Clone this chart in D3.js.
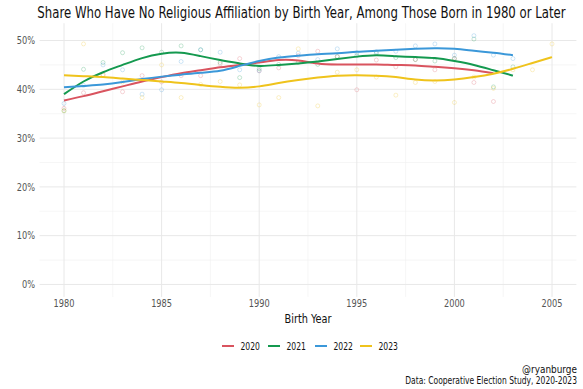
<!DOCTYPE html>
<html><head><meta charset="utf-8">
<script src="https://cdn.jsdelivr.net/npm/d3@7"></script>
<style>
body{margin:0;background:#fff}
text{font-family:"Liberation Sans Narrow","DejaVu Sans Condensed","Roboto",sans-serif}
</style>
</head><body>
<svg id="c" width="583" height="389"></svg>
<script>
// ---- data ----
const seriesNames = ["2020", "2021", "2022", "2023"];
const seriesColors = ["#d9545f", "#14994f", "#3b98d9", "#efc31c"];

const years2020 = [1980,1981,1982,1983,1984,1985,1986,1987,1988,1989,1990,1991,1992,1993,1994,1995,1996,1997,1998,1999,2000,2001,2002];
const years2021 = [1980,1981,1982,1983,1984,1985,1986,1987,1988,1989,1990,1991,1992,1993,1994,1995,1996,1997,1998,1999,2000,2001,2002,2003];
const years2022 = [1980,1981,1982,1983,1984,1985,1986,1987,1988,1989,1990,1991,1992,1993,1994,1995,1996,1997,1998,1999,2000,2001,2002,2003];
const years2023 = [1980,1981,1982,1983,1984,1985,1986,1987,1988,1989,1990,1991,1992,1993,1994,1995,1996,1997,1998,1999,2000,2001,2002,2003,2004,2005];

// observed shares (points, %)
const points2020 = [36.1,39.3,43.0,39.5,42.8,41.5,42.8,42.8,45.2,46.3,43.8,44.4,46.9,47.8,46.7,39.9,46.0,44.6,46.1,44.0,46.3,41.4,37.5];
const points2021 = [35.6,44.1,45.5,47.5,48.5,47.6,48.9,48.1,45.5,42.4,44.2,45.1,45.5,45.1,46.7,46.9,47.4,46.5,46.1,45.8,46.3,50.3,40.5,44.6];
const points2022 = [37.1,40.8,45.0,44.0,39.0,39.9,45.7,48.1,47.6,44.0,43.8,46.7,47.4,46.1,48.3,47.5,47.7,47.8,48.9,49.3,47.0,51.0,47.0,46.3];
const points2023 = [35.6,49.3,42.9,41.5,38.3,45.0,38.3,41.0,41.6,40.9,36.8,38.3,48.3,36.6,43.5,44.0,42.5,38.8,41.4,41.6,37.3,42.5,40.2,44.0,44.0,49.3];

// smoothed trend (%)
const trend2020 = [37.7,38.6,39.6,40.6,41.6,42.5,43.3,43.9,44.5,45.0,45.5,46.0,45.9,45.3,45.1,45.1,45.1,45.0,44.9,44.6,44.3,43.9,43.3];
const trend2021 = [39.0,41.6,43.5,45.0,46.4,47.3,47.5,46.8,46.0,45.3,44.8,45.0,45.3,45.7,46.2,46.7,47.0,46.8,46.6,46.4,45.8,45.0,43.9,42.8];
const trend2022 = [40.4,40.7,41.0,41.5,42.1,42.6,43.0,43.4,43.8,44.8,45.8,46.5,46.9,47.2,47.4,47.7,47.9,48.1,48.3,48.4,48.3,47.9,47.5,47.0];
const trend2023 = [42.9,42.7,42.5,42.2,41.9,41.6,41.3,40.9,40.5,40.3,40.6,41.3,41.9,42.4,42.8,42.9,42.8,42.5,42.0,41.8,42.0,42.5,43.2,44.2,45.4,46.6];

const xTicks = [1980,1985,1990,1995,2000,2005];
const xMinor = [1982.5,1987.5,1992.5,1997.5,2002.5];
const yTicks = [0,10,20,30,40,50];
const yMinor = [5,15,25,35,45];

const titleText = "Share Who Have No Religious Affiliation by Birth Year, Among Those Born in 1980 or Later";
const xTitle = "Birth Year";
const captionLines = ["@ryanburge", "Data: Cooperative Election Study, 2020-2023"];

const series = [
  {name: seriesNames[0], color: seriesColors[0], years: years2020, pts: points2020, trend: trend2020},
  {name: seriesNames[1], color: seriesColors[1], years: years2021, pts: points2021, trend: trend2021},
  {name: seriesNames[2], color: seriesColors[2], years: years2022, pts: points2022, trend: trend2022},
  {name: seriesNames[3], color: seriesColors[3], years: years2023, pts: points2023, trend: trend2023}
];

const svg = d3.select("#c");

// ---- narrow-text helper: text drawn at origin inside a translated, horizontally scaled group ----
function ntext(parent, px, py, str, opts) {
  const g = parent.append("g");
  const t = g.append("text").attr("x", 0).attr("y", 0).attr("dy", "0.35em")
    .attr("text-anchor", opts.anchor || "start")
    .attr("font-size", opts.size).attr("fill", opts.fill || "#111").text(str);
  const w = t.node().getComputedTextLength();
  let s = opts.scale != null ? opts.scale : 1;
  if (opts.width != null) s = Math.min(1, opts.width / w);
  g.attr("transform", `translate(${px},${py}) scale(${s},1)`);
  return {g, t, w, s};
}

// ---- layout ----
const x = d3.scaleLinear().domain([1978.75, 2006.25]).range([39.6, 576.4]);
const y = d3.scaleLinear().domain([-2.55, 53.55]).range([296.9, 23.2]);
const [px0, px1] = x.range();
const [py0, py1] = y.range();

const grid = svg.append("g");
grid.selectAll(".ymin").data(yMinor).join("line")
  .attr("x1", px0).attr("x2", px1).attr("y1", d => y(d)).attr("y2", d => y(d))
  .attr("stroke", "#f0f0f0").attr("stroke-width", 0.6);
grid.selectAll(".xmin").data(xMinor).join("line")
  .attr("y1", py0).attr("y2", py1).attr("x1", d => x(d)).attr("x2", d => x(d))
  .attr("stroke", "#f0f0f0").attr("stroke-width", 0.6);
grid.selectAll(".ymaj").data(yTicks).join("line")
  .attr("x1", px0).attr("x2", px1).attr("y1", d => y(d)).attr("y2", d => y(d))
  .attr("stroke", "#e8e8e8").attr("stroke-width", 1);
grid.selectAll(".xmaj").data(xTicks).join("line")
  .attr("y1", py0).attr("y2", py1).attr("x1", d => x(d)).attr("x2", d => x(d))
  .attr("stroke", "#e8e8e8").attr("stroke-width", 1);

// title (defines the condensing factor used elsewhere)
const ttl = ntext(svg, 301.5, 13, titleText, {size: 15, anchor: "middle", width: 529});
const squeeze = ttl.s;

// axis labels
const yl = svg.append("g");
yTicks.forEach(v => ntext(yl, 35, y(v), v + "%", {size: 10.5, anchor: "end", fill: "#555", scale: squeeze}));
const xl = svg.append("g");
xTicks.forEach(v => ntext(xl, x(v), 303, String(v), {size: 10.5, anchor: "middle", fill: "#555", scale: squeeze}));
ntext(svg, (px0 + px1) / 2, 318, xTitle, {size: 13, anchor: "middle", width: 47});

// points
series.forEach(s => {
  svg.append("g").selectAll("circle").data(s.pts).join("circle")
    .attr("cx", (d, i) => x(s.years[i])).attr("cy", d => y(d)).attr("r", 2)
    .attr("fill", "none").attr("stroke", s.color).attr("stroke-opacity", 0.35).attr("stroke-width", 0.7);
});

// trend lines
const line = d3.line().x(d => x(d[0])).y(d => y(d[1])).curve(d3.curveNatural);
series.forEach(s => {
  svg.append("path").datum(s.years.map((yr, i) => [yr, s.trend[i]]))
    .attr("d", line).attr("fill", "none").attr("stroke", s.color).attr("stroke-width", 2);
});

// legend
const legX = [222, 268, 315, 360];
const leg = svg.append("g");
series.forEach((s, i) => {
  leg.append("line").attr("x1", legX[i]).attr("x2", legX[i] + 12)
    .attr("y1", 346).attr("y2", 346).attr("stroke", s.color).attr("stroke-width", 2);
  ntext(leg, legX[i] + 18.5, 346, s.name, {size: 11, width: 19.5});
});

// caption
const capG = svg.append("g");
ntext(capG, 577, 369, captionLines[0], {size: 10.5, anchor: "end", width: 55});
ntext(capG, 577, 380, captionLines[1], {size: 10.5, anchor: "end", width: 172});
</script>
</body></html>
